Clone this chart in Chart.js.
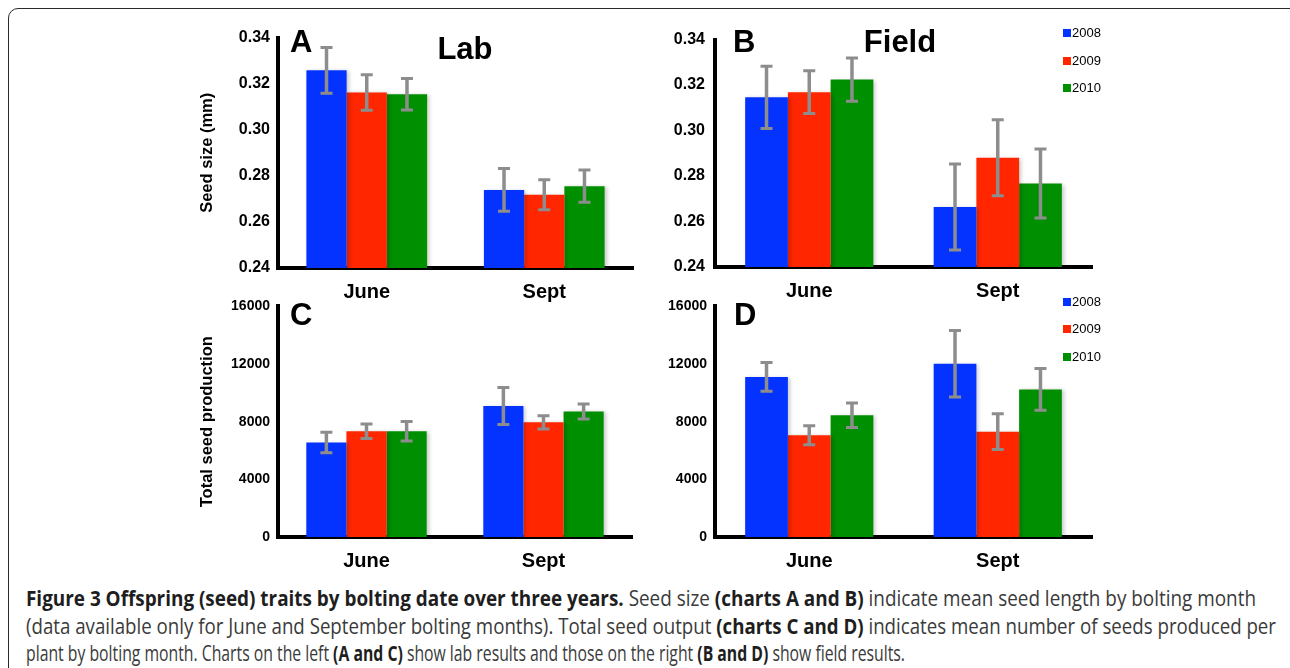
<!DOCTYPE html>
<html>
<head>
<meta charset="utf-8">
<script src="https://cdn.jsdelivr.net/npm/chart.js@4.4.1/dist/chart.umd.min.js"></script>
<style>
  body { margin: 0; background: #fff; width: 1290px; height: 668px; overflow: hidden; position: relative; font-family: "Liberation Sans", Arial, sans-serif; }
  canvas { position: absolute; }
  .frame { position: absolute; left: 8px; top: 8px; width: 1300px; height: 680px; border: 1.5px solid #2a2a2a; border-radius: 10px; box-sizing: border-box; }
  .tag { position: absolute; font-weight: bold; font-size: 31px; line-height: 1; color: #000; white-space: nowrap; }
  .leg { position: absolute; font-size: 13px; line-height: 1; color: #000; white-space: nowrap; }
  .leg span { display: inline-block; width: 8px; height: 8px; margin-right: 1px; vertical-align: 0px; }
  .cap { position: absolute; left: 26px; font-family: "Open Sans", "DejaVu Sans Condensed", sans-serif; font-size: 22px; line-height: 27px; color: #3a3a3a; white-space: nowrap; transform-origin: 0 0; }
  .cap b { color: #1e1e1e; font-weight: 700; }
</style>
</head>
<body>
<div class="frame"></div>

<canvas id="chartA" width="442" height="290" style="left:198px;top:20px"></canvas>
<canvas id="chartB" width="450" height="290" style="left:650px;top:20px"></canvas>
<canvas id="chartC" width="442" height="290" style="left:198px;top:290px"></canvas>
<canvas id="chartD" width="450" height="290" style="left:650px;top:290px"></canvas>

<div class="tag" style="left:290px;top:26px">A</div>
<div class="tag" style="left:465px;top:33px;transform:translateX(-50%)">Lab</div>
<div class="tag" style="left:733px;top:26px">B</div>
<div class="tag" style="left:900px;top:26px;transform:translateX(-50%)">Field</div>
<div class="tag" style="left:290px;top:299px">C</div>
<div class="tag" style="left:734px;top:299px">D</div>

<div id="legB"></div>
<div id="legD"></div>

<div class="cap" id="cap1" style="top:584px"><b>Figure 3 Offspring (seed) traits by bolting date over three years.</b> Seed size <b>(charts A and B)</b> indicate mean seed length by bolting month</div>
<div class="cap" id="cap2" style="top:612px">(data available only for June and September bolting months). Total seed output <b>(charts C and D)</b> indicates mean number of seeds produced per</div>
<div class="cap" id="cap3" style="top:639px">plant by bolting month. Charts on the left <b>(A and C)</b> show lab results and those on the right <b>(B and D)</b> show field results.</div>

<script>
// data
var months = ['June', 'Sept'];
var years = ['2008', '2009', '2010'];
var yearColors = ['#0433ff', '#ff2600', '#008f00'];

var sizeTicks = [0.24, 0.26, 0.28, 0.30, 0.32, 0.34];
var seedTicks = [0, 4000, 8000, 12000, 16000];

// A - lab seed size
var labSize2008 = [0.3258, 0.2739];
var labSize2009 = [0.3162, 0.2718];
var labSize2010 = [0.3154, 0.2755];
var labSizeErr2008 = [0.0099, 0.0093];
var labSizeErr2009 = [0.0077, 0.0065];
var labSizeErr2010 = [0.0068, 0.0070];

// B - field seed size
var fieldSize2008 = [0.3146, 0.2664];
var fieldSize2009 = [0.3169, 0.2880];
var fieldSize2010 = [0.3224, 0.2767];
var fieldSizeErr2008 = [0.0137, 0.0189];
var fieldSizeErr2009 = [0.0094, 0.0167];
var fieldSizeErr2010 = [0.0095, 0.0152];

// C - lab seed production
var labSeeds2008 = [6556, 9094];
var labSeeds2009 = [7338, 7955];
var labSeeds2010 = [7338, 8710];
var labSeedsErr2008 = [710, 1280];
var labSeedsErr2009 = [500, 455];
var labSeedsErr2010 = [675, 525];

// D - field seed production
var fieldSeeds2008 = [11110, 12022];
var fieldSeeds2009 = [7064, 7311];
var fieldSeeds2010 = [8456, 10239];
var fieldSeedsErr2008 = [1000, 2300];
var fieldSeedsErr2009 = [660, 1245];
var fieldSeedsErr2010 = [850, 1450];

Chart.defaults.font.family = '"Liberation Sans", Arial, sans-serif';
Chart.defaults.color = '#000';

// soft shadow under the bars, then error bars drawn through the y scale
var errorBars = {
	id: 'errorBars',
	beforeDatasetsDraw: function(chart) {
		var ctx = chart.ctx;
		ctx.save();
		ctx.shadowColor = 'rgba(0,0,0,0.22)';
		ctx.shadowBlur = 4;
		ctx.shadowOffsetX = 2;
		ctx.shadowOffsetY = 1;
	},
	afterDatasetsDraw: function(chart, args, opts) {
		var ctx = chart.ctx;
		ctx.restore();
		var y = chart.scales.y;
		ctx.save();
		ctx.strokeStyle = '#8d8d8d';
		ctx.lineCap = 'butt';
		chart.data.datasets.forEach(function(ds, i) {
			var meta = chart.getDatasetMeta(i);
			meta.data.forEach(function(bar, j) {
				var v = ds.data[j], e = opts.errors[i][j];
				var top = y.getPixelForValue(v + e);
				var bot = y.getPixelForValue(v - e);
				ctx.lineWidth = 3.5;
				ctx.beginPath();
				ctx.moveTo(bar.x, top);
				ctx.lineTo(bar.x, bot);
				ctx.stroke();
				ctx.lineWidth = 3;
				ctx.beginPath();
				ctx.moveTo(bar.x - 6, top);
				ctx.lineTo(bar.x + 6, top);
				ctx.moveTo(bar.x - 6, bot);
				ctx.lineTo(bar.x + 6, bot);
				ctx.stroke();
			});
		});
		ctx.restore();
	}
};

function makePanel(id, series, errors, ticks, cfg) {
	var ctx = document.getElementById(id).getContext('2d');
	return new Chart(ctx, {
		type: 'bar',
		data: {
			labels: months,
			datasets: series.map(function(d, i) {
				return {
					label: years[i],
					data: d,
					backgroundColor: yearColors[i],
					borderWidth: 0,
					categoryPercentage: 0.68,
					barPercentage: 1.0
				};
			})
		},
		options: {
			responsive: false,
			animation: false,
			devicePixelRatio: 1,
			layout: { padding: { top: cfg.padTop, right: cfg.padRight, left: 0, bottom: 0 } },
			plugins: {
				legend: { display: false },
				tooltip: { enabled: false },
				errorBars: { errors: errors }
			},
			scales: {
				x: {
					grid: { display: false, drawTicks: false },
					border: { color: '#000', width: 4 },
					ticks: { padding: 12, font: { size: 20, weight: 'bold' } },
					afterFit: function(s) { s.height = cfg.xHeight; }
				},
				y: {
					min: ticks[0],
					max: ticks[ticks.length - 1],
					grid: { display: false, drawTicks: false },
					border: { color: '#000', width: 4 },
					afterBuildTicks: function(s) { s.ticks = ticks.map(function(v) { return { value: v }; }); },
					ticks: {
						padding: cfg.tickPad,
						font: { size: cfg.tickSize, weight: 'bold' },
						callback: function(v) { return cfg.decimals ? v.toFixed(cfg.decimals) : String(v); }
					},
					title: {
						display: !!cfg.title,
						text: cfg.title || '',
						padding: 0,
						font: { size: 16.5, weight: 'bold' }
					},
					afterFit: function(s) { s.width = cfg.yWidth; }
				}
			}
		},
		plugins: [errorBars]
	});
}

makePanel('chartA', [labSize2008, labSize2009, labSize2010],
	[labSizeErr2008, labSizeErr2009, labSizeErr2010], sizeTicks,
	{ padTop: 16, padRight: 7, xHeight: 42, yWidth: 80, tickPad: 8, tickSize: 16, decimals: 2, title: 'Seed size (mm)' });

makePanel('chartB', [fieldSize2008, fieldSize2009, fieldSize2010],
	[fieldSizeErr2008, fieldSizeErr2009, fieldSizeErr2010], sizeTicks,
	{ padTop: 16, padRight: 8, xHeight: 43, yWidth: 65, tickPad: 10, tickSize: 16, decimals: 2 });

makePanel('chartC', [labSeeds2008, labSeeds2009, labSeeds2010],
	[labSeedsErr2008, labSeedsErr2009, labSeedsErr2010], seedTicks,
	{ padTop: 14, padRight: 8, xHeight: 43, yWidth: 80, tickPad: 8, tickSize: 14, decimals: 0, title: 'Total seed production' });

makePanel('chartD', [fieldSeeds2008, fieldSeeds2009, fieldSeeds2010],
	[fieldSeedsErr2008, fieldSeedsErr2009, fieldSeedsErr2010], seedTicks,
	{ padTop: 14, padRight: 8, xHeight: 43, yWidth: 65, tickPad: 8, tickSize: 14, decimals: 0 });

// legends for the field panels
function buildLegend(el, x, rows) {
	years.forEach(function(y, i) {
		var d = document.createElement('div');
		d.className = 'leg';
		d.style.left = x + 'px';
		d.style.top = (rows[i] - 7) + 'px';
		d.innerHTML = '<span style="background:' + yearColors[i] + '"></span>' + y;
		el.appendChild(d);
	});
}
buildLegend(document.getElementById('legB'), 1063, [33, 61, 88]);
buildLegend(document.getElementById('legD'), 1063, [302, 329, 357]);

// squeeze caption lines to the printed widths
[['cap1', 1230], ['cap2', 1250], ['cap3', 879]].forEach(function(p) {
	var el = document.getElementById(p[0]);
	var w = el.getBoundingClientRect().width;
	el.style.transform = 'scaleX(' + (p[1] / w) + ')';
});
</script>
</body>
</html>
